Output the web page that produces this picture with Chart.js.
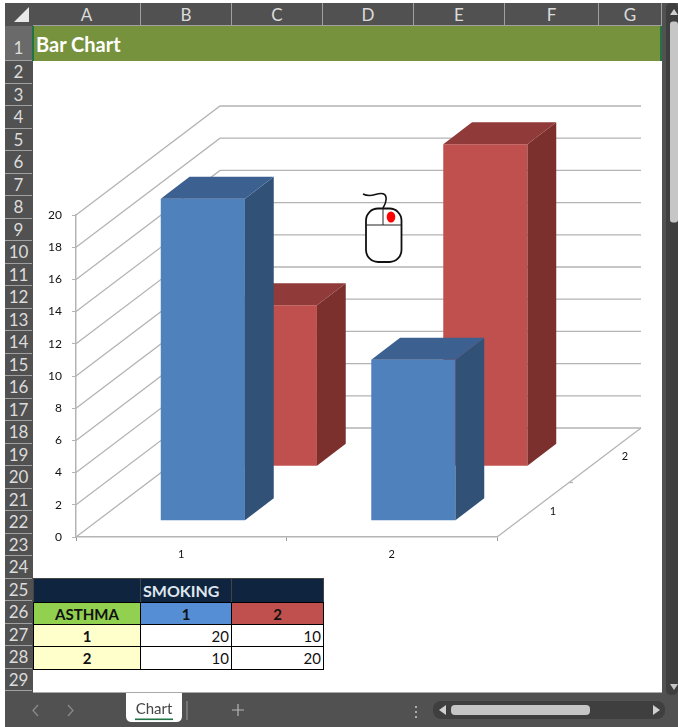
<!DOCTYPE html>
<html>
<head>
<meta charset="utf-8">
<title>Bar Chart</title>
<script src="https://cdn.jsdelivr.net/npm/chart.js@4/dist/chart.umd.js"></script>
<style>
  html, body { margin: 0; padding: 0; background: #fff; }
  body { width: 678px; height: 727px; position: relative; overflow: hidden; font-family: Lato, sans-serif; }
  .box { position: absolute; box-sizing: border-box; }
  .hdr { color: #dcdcdc; font-size: 17px; display: flex; align-items: center; justify-content: center; }
  .cell { font-size: 15px; display: flex; align-items: center; justify-content: center; color: #111; border: 1px solid #000; }
  #chartWrap { position: absolute; left: 33px; top: 62px; width: 629px; height: 514px; }
  svg { position: absolute; left: 0; top: 0; }
</style>
</head>
<body>
<div class="box" style="left:5px;top:3px;width:673px;height:724px;background:#515151"></div>
<div class="box" style="left:33px;top:61px;width:629px;height:632px;background:#fff;border-bottom:1px solid #aaa"></div>
<div class="box" style="left:33px;top:26px;width:629px;height:35px;background:#76923c;color:#fff;font-weight:bold;font-size:20px;line-height:37px;padding-left:3px">Bar Chart</div>
<div class="box" style="left:32px;top:26px;width:2px;height:35px;background:#217346"></div>
<div class="box" style="left:660px;top:26px;width:2px;height:35px;background:#217346"></div>
<div id="chartWrap"><canvas id="chart" width="629" height="514"></canvas></div>
<div id="chrome"></div>
<svg width="678" height="727" style="pointer-events:none">
  <!-- select-all corner -->
  <polygon points="29,7 29,22 14,22" fill="#e8e8e8"/>
  <!-- mouse picture -->
  <rect x="366" y="208.5" width="35.5" height="53.5" rx="12" fill="#fff" stroke="#111" stroke-width="1.8"/>
  <path d="M366 225 H401.5 M383 208.5 V225" stroke="#222" stroke-width="1" fill="none"/>
  <path d="M383 208 C387 201 388 193.5 381 193.5 C375 193.5 371 198 363 194" stroke="#111" stroke-width="1.6" fill="none"/>
  <ellipse cx="391" cy="217" rx="4.3" ry="5.5" fill="#ff0000"/>
  <!-- scroll bars -->
  <rect x="666" y="3" width="12" height="692" rx="5" fill="#3f3f3f"/>
  <rect x="670" y="21.5" width="8" height="201" rx="3" fill="#c6c6c6"/>
  <polygon points="670,15 674,9 678,15" fill="#d0d0d0"/>
  <polygon points="670,684 674,690 678,684" fill="#c6c6c6"/>
  <rect x="433" y="701" width="232" height="18" rx="8" fill="#3f3f3f"/>
  <rect x="451" y="705" width="139" height="10" rx="4" fill="#c6c6c6"/>
  <polygon points="446,705 446,715 439,710" fill="#d0d0d0"/>
  <polygon points="653,705 653,715 660,710" fill="#d0d0d0"/>
  <circle cx="416" cy="707" r="1" fill="#ccc"/><circle cx="416" cy="712" r="1" fill="#ccc"/><circle cx="416" cy="717" r="1" fill="#ccc"/>
  <!-- sheet tab bar -->
  <path d="M126 693 H182 V716 Q182 722 176 722 H132 Q126 722 126 716 Z" fill="#fff"/>
  <rect x="135" y="718.5" width="38" height="1.6" fill="#217346"/>
  <rect x="186.5" y="701" width="1" height="19" fill="#9a9a9a"/>
  <path d="M38 705 L33 710.5 L38 716 M68 705 L73 710.5 L68 716" stroke="#8a8a8a" stroke-width="1.3" fill="none"/>
  <path d="M238 704 V716 M232 710 H244" stroke="#b5b5b5" stroke-width="1.2" fill="none"/>
  <text x="154" y="714" text-anchor="middle" font-family="Lato, sans-serif" font-size="15" fill="#444">Chart</text>
</svg>
<script>
// sheet data
const smokingLabels = ['1', '2'];
const depthLabels = ['1', '2'];
const asthma1Values = [20, 10];
const asthma2Values = [10, 20];
const yTickStep = 2;
const yMax = 20;

const columnNames = ['A', 'B', 'C', 'D', 'E', 'F', 'G'];
const columnEdges = [33, 141, 232, 323, 414, 505, 599, 662];

// depth of the floor in pixels, bars sit at a fraction of it
const floorDepthX = 144;
const floorDepthY = 109;
const rowStart = [0.15, 0.65];   //front row, back row
const rowThickness = 0.2;

const barColors = [
  { front: '#4f81bd', side: '#325177', top: '#3c6191' },
  { front: '#c0504d', side: '#7b302e', top: '#903b39' }
];
const gridColor = '#b4b4b4';
const textColor = '#111';

// spreadsheet frame
function addBox(cls, x, y, w, h, css, text) {
  const el = document.createElement('div');
  el.className = 'box ' + cls;
  el.style.cssText = 'left:' + x + 'px;top:' + y + 'px;width:' + w + 'px;height:' + h + 'px;' + css;
  if (text !== undefined) el.textContent = text;
  document.getElementById('chrome').appendChild(el);
}

columnNames.forEach((name, i) => {
  const x = columnEdges[i];
  addBox('hdr', x, 3, columnEdges[i + 1] - x, 23, 'border-right:1px solid #a0a0a0;border-bottom:1px solid #a0a0a0', name);
});

addBox('hdr', 5, 26, 27, 35, 'background:#6a6a6a;border-bottom:1px solid #a0a0a0;padding-top:8px', '1');
for (let r = 2; r <= 29; r++) {
  addBox('hdr', 5, 61 + (r - 2) * 22.5, 27, 22.5, 'border-bottom:1px solid #a0a0a0', String(r));
}

// table under the chart
const colA = 33, colB = 140, colC = 231, colEnd = 323;
const rowTop = [578, 602, 624, 646, 669];
function addCell(x, x2, r, css, text) {
  addBox('cell', x, rowTop[r], x2 - x + 1, rowTop[r + 1] - rowTop[r] + 1, css, text);
}
const navy = 'background:#0f243e;border-color:#444;color:#dfe6ee;font-weight:bold;';
addCell(colA, colB, 0, navy, '');
addCell(colB, colC, 0, navy + 'font-size:16px;justify-content:flex-start;padding-left:2px;', 'SMOKING');
addCell(colC, colEnd, 0, navy, '');
addCell(colA, colB, 1, 'background:#92d050;font-weight:bold;', 'ASTHMA');
addCell(colB, colC, 1, 'background:#558ed5;font-weight:bold;', smokingLabels[0]);
addCell(colC, colEnd, 1, 'background:#c0504d;font-weight:bold;', smokingLabels[1]);
[asthma1Values, asthma2Values].forEach((vals, i) => {
  addCell(colA, colB, i + 2, 'background:#ffffcc;font-weight:bold;', depthLabels[i]);
  addCell(colB, colC, i + 2, 'background:#fff;justify-content:flex-end;padding-right:2px;', String(vals[0]));
  addCell(colC, colEnd, i + 2, 'background:#fff;justify-content:flex-end;padding-right:2px;', String(vals[1]));
});

// walls, floor and depth axis, drawn from the value scale
const walls3d = {
  id: 'walls3d',
  beforeDatasetsDraw(chart) {
    const { ctx, chartArea, scales } = chart;
    const { left, right, bottom } = chartArea;
    ctx.save();
    ctx.strokeStyle = gridColor;
    ctx.lineWidth = 1.3;
    scales.y.ticks.forEach(t => {
      const y = scales.y.getPixelForValue(t.value);
      ctx.beginPath();
      ctx.moveTo(left, y);
      ctx.lineTo(left + floorDepthX, y - floorDepthY);
      ctx.lineTo(right + floorDepthX, y - floorDepthY);
      ctx.stroke();
    });
    // depth axis
    ctx.beginPath();
    ctx.moveTo(right, bottom);
    ctx.lineTo(right + floorDepthX, bottom - floorDepthY);
    ctx.stroke();
    const midX = right + floorDepthX / 2, midY = bottom - floorDepthY / 2;
    ctx.beginPath();
    ctx.moveTo(midX, midY);
    ctx.lineTo(midX + 4, midY);
    ctx.stroke();
    ctx.fillStyle = textColor;
    ctx.font = '11px Lato, sans-serif';
    ctx.textAlign = 'center';
    ctx.textBaseline = 'middle';
    depthLabels.forEach((label, i) => {
      const f = (i + 0.5) / depthLabels.length;
      ctx.fillText(label, right + f * floorDepthX + 20, bottom - f * floorDepthY + 1.5);
    });
    ctx.restore();
  },
  // push each series back to its row on the floor
  beforeDatasetDraw(chart, args) {
    const { ctx } = chart;
    ctx.save();
    ctx.translate(rowStart[args.index] * floorDepthX, -rowStart[args.index] * floorDepthY);
  },
  afterDatasetDraw(chart, args) {
    const { ctx } = chart;
    const colors = barColors[args.index];
    const dx = rowThickness * floorDepthX;
    const dy = rowThickness * floorDepthY;
    args.meta.data.forEach(bar => {
      const { x, y, base, width } = bar.getProps(['x', 'y', 'base', 'width'], true);
      const l = x - width / 2, r = x + width / 2;
      ctx.fillStyle = colors.side;
      ctx.beginPath();
      ctx.moveTo(r, y);
      ctx.lineTo(r + dx, y - dy);
      ctx.lineTo(r + dx, base - dy);
      ctx.lineTo(r, base);
      ctx.closePath();
      ctx.fill();
      ctx.fillStyle = colors.top;
      ctx.beginPath();
      ctx.moveTo(l, y);
      ctx.lineTo(l + dx, y - dy);
      ctx.lineTo(r + dx, y - dy);
      ctx.lineTo(r, y);
      ctx.closePath();
      ctx.fill();
    });
    ctx.restore();
  }
};

new Chart(document.getElementById('chart'), {
  type: 'bar',
  plugins: [walls3d],
  data: {
    labels: smokingLabels,
    datasets: [ //first one is painted last, so the front row stays on top
      { label: 'Asthma 1', data: asthma1Values, backgroundColor: barColors[0].front, clip: false },
      { label: 'Asthma 2', data: asthma2Values, backgroundColor: barColors[1].front, clip: false }
    ]
  },
  options: {
    responsive: false,
    animation: false,
    events: [],
    grouped: false,
    barPercentage: 0.4,
    categoryPercentage: 1,
    layout: { padding: { left: 0, right: 165, top: 153, bottom: 0 } },
    plugins: { legend: { display: false }, title: { display: false }, tooltip: { enabled: false } },
    scales: {
      x: {
        afterFit(scale) { scale.height = 39; },
        border: { color: gridColor, width: 1.5 },
        grid: { drawOnChartArea: false, drawTicks: true, tickLength: 4, color: '#999', offset: true },
        ticks: { color: textColor, font: { family: 'Lato, sans-serif', size: 11 }, padding: 7 }
      },
      y: {
        min: 0,
        max: yMax,
        afterFit(scale) { scale.width = 43; },
        border: { color: gridColor, width: 1.5 },
        grid: { drawOnChartArea: false, drawTicks: true, tickLength: 4, color: gridColor },
        ticks: { stepSize: yTickStep, color: textColor, font: { family: 'Lato, sans-serif', size: 12 }, padding: 10 }
      }
    }
  }
});
</script>
</body>
</html>
